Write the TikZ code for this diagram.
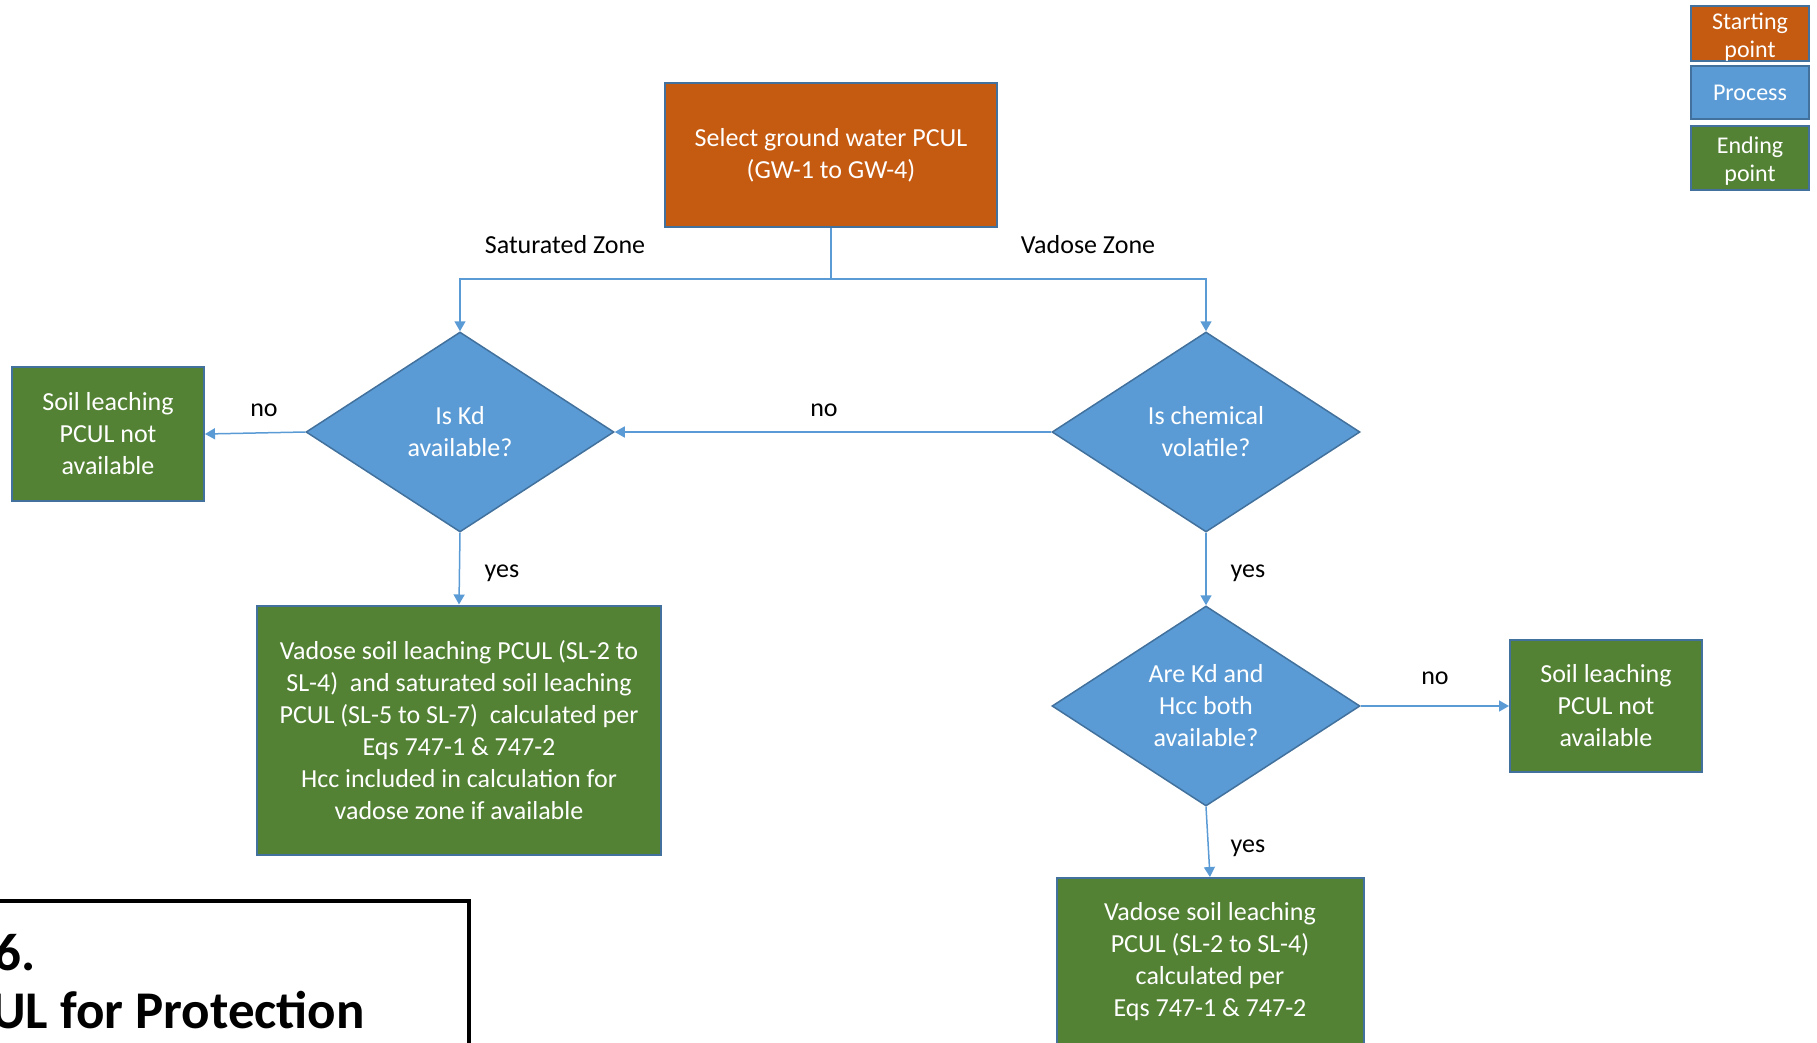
\documentclass[tikz,border=0pt]{standalone}
\usepackage{fontspec}
\setmainfont{Carlito}
\usetikzlibrary{shapes.geometric,arrows.meta}
\definecolor{startorange}{HTML}{C55A11}
\definecolor{procblue}{HTML}{5B9BD5}
\definecolor{endgreen}{HTML}{548235}
\definecolor{edgeblue}{HTML}{41719C}
\definecolor{linkblue}{HTML}{5B9BD5}
% invisible strut that lowers a two-line legend text a little
\newcommand{\legstrut}{\rule{0pt}{23pt}}

\begin{document}
\begin{tikzpicture}[x=1pt,y=-1pt,
  body/.style={font=\fontsize{26}{32}\selectfont},
  box/.style={body, draw=edgeblue, line width=2pt, text=white, align=center, inner sep=0pt},
  startbox/.style={box, fill=startorange},
  endbox/.style={box, fill=endgreen},
  decision/.style={diamond, body, draw=edgeblue, line width=1.5pt, fill=procblue,
    text=white, align=center, inner sep=0pt, minimum width=308pt,
    minimum height=200pt, shape aspect=1.54},
  link/.style={draw=linkblue, line width=1.5pt},
  arr/.style={link, -{Triangle[length=10pt,width=11pt]}},
  lbl/.style={body, text=black, inner sep=0pt},
  legendbox/.style={draw=edgeblue, line width=2.5pt, text=white, align=center,
    font=\fontsize{24}{28}\selectfont, minimum width=118pt, inner sep=0pt},
  titletext/.style={anchor=base west, inner sep=0pt,
    font=\fontsize{53}{60}\selectfont\bfseries}
]
\path[use as bounding box] (0,0) rectangle (1817,1042);
\clip (0,0) rectangle (1817,1042);

% legend
\node[legendbox, fill=startorange, minimum height=55pt] (lgs) at (1750,33.5) {\legstrut Starting\\point};
\node[legendbox, fill=procblue, minimum height=53pt] (lgp) at (1750,92.5) {Process};
\node[legendbox, fill=endgreen, minimum height=64pt] (lge) at (1750,158) {\legstrut Ending\\point};

% flow chart nodes
\node[startbox, minimum width=332pt, minimum height=144pt] (gw) at (831,155)
  {Select ground water PCUL\\(GW-1 to GW-4)};
\node[decision] (kd) at (460,432) {Is Kd\\available?};
\node[decision] (vol) at (1206,432) {Is chemical\\volatile?};
\node[decision] (both) at (1206,706) {Are Kd and\\Hcc both\\available?};
\node[endbox, minimum width=192pt, minimum height=134pt] (nal) at (108,434)
  {Soil leaching\\PCUL not\\available};
\node[endbox, minimum width=404pt, minimum height=249pt] (sat) at (459,730)
  {Vadose soil leaching PCUL (SL-2 to\\SL-4)~ and saturated soil leaching\\PCUL (SL-5 to SL-7)~ calculated per\\Eqs 747-1 \& 747-2\\Hcc included in calculation for\\vadose zone if available};
\node[endbox, minimum width=192pt, minimum height=132pt] (nar) at (1606,706)
  {Soil leaching\\PCUL not\\available};
\node[endbox, minimum width=307pt, minimum height=168pt] (vad) at (1210,962)
  {Vadose soil leaching\\PCUL (SL-2 to SL-4)\\calculated per\\Eqs 747-1 \& 747-2};

% connectors
\coordinate (split) at (831,279);
\draw[link] (gw.south) -- (split);
\draw[arr] (split) -| (kd.north);
\draw[arr] (split) -| (vol.north);
\draw[arr] (vol.west) -- (kd.east);
\draw[arr] (kd.west) -- (nal.east);
\draw[arr] (kd.south) -- (sat.north);
\draw[arr] (vol.south) -- (both.north);
\draw[arr] (both.east) -- (nar.west);
\draw[arr] (both.south) -- (vad.north);

% connector labels
\node[lbl] (lsat) at (565,244.5) {Saturated Zone};
\node[lbl] (lvad) at (1088,244.5) {Vadose Zone};
\node[lbl] (lno1) at (264,410.5) {no};
\node[lbl] (lno2) at (824,410.5) {no};
\node[lbl] (lyes1) at (502,573.5) {yes};
\node[lbl] (lyes2) at (1248,573.5) {yes};
\node[lbl] (lno3) at (1435,678.5) {no};
\node[lbl] (lyes3) at (1248,848.5) {yes};

% title frame
\draw[line width=4.5pt] (-10,901) -- (469,901) -- (469,1060);
\node[titletext] (t1) at (-6,970) {6.};
\node[titletext] (t2) at (-9,1028) {UL for Protection};
\end{tikzpicture}
\end{document}
